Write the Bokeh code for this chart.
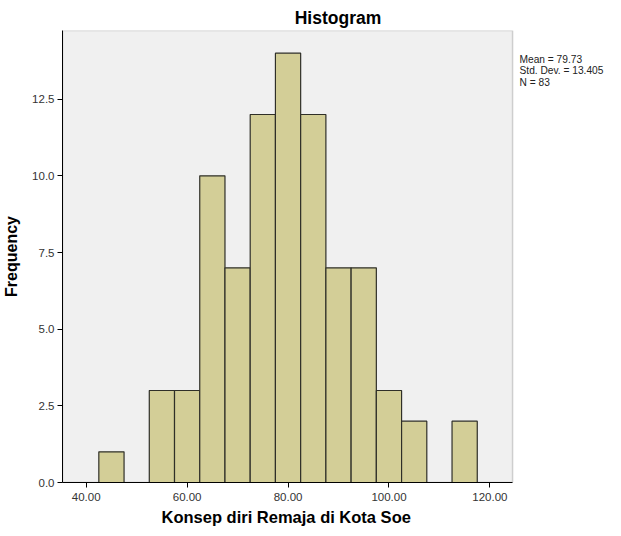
from bokeh.plotting import figure
from bokeh.models import (Range1d, FixedTicker, PrintfTickFormatter, ColumnDataSource,
                          Label, Title, BoxAnnotation)
from bokeh.embed import file_html
from bokeh.resources import INLINE

# ---- data ----
bin_width = 5.0
bin_left = [42.5, 47.5, 52.5, 57.5, 62.5, 67.5, 72.5, 77.5, 82.5, 87.5, 92.5, 97.5, 102.5, 107.5, 112.5]
counts = [1, 0, 3, 3, 10, 7, 12, 14, 12, 7, 7, 3, 2, 0, 2]
x_ticks = [40, 60, 80, 100, 120]
y_ticks = [0.0, 2.5, 5.0, 7.5, 10.0, 12.5]
stats_lines = ["Mean = 79.73", "Std. Dev. = 13.405", "N = 83"]
title_text = "Histogram"
x_label = "Konsep diri Remaja di Kota Soe"
y_label = "Frequency"

# plot-area limits (data units) and the extra room on the right for the statistics
area_x = (35.3, 124.5)
area_y = (0.0, 14.74)
canvas_x_max = 144.5

FONT = "Liberation Sans"

lefts = [l for l, c in zip(bin_left, counts) if c > 0]
rights = [l + bin_width for l, c in zip(bin_left, counts) if c > 0]
tops = [c for c in counts if c > 0]
src = ColumnDataSource(dict(left=lefts, right=rights, top=tops, bottom=[0] * len(tops)))

p = figure(width=613, height=528, output_backend="svg", toolbar_location=None,
           x_range=Range1d(area_x[0], canvas_x_max), y_range=Range1d(*area_y),
           min_border_left=62, min_border_right=0, min_border_top=30, min_border_bottom=44)

p.background_fill_color = "white"
p.border_fill_color = "white"
p.outline_line_color = None
p.xgrid.visible = False
p.ygrid.visible = False

# grey plot area with its frame
p.add_layout(BoxAnnotation(left=area_x[0], right=area_x[1], bottom=area_y[0], top=area_y[1],
                           fill_color="#f0f0f0", fill_alpha=1.0,
                           line_color="#707070", line_width=1.5, level="underlay"))

# title (centred over the whole chart incl. statistics, as in the reference)
p.title.text = title_text
p.title.text_font = FONT
p.title.text_font_size = "17.5px"
p.title.text_font_style = "bold"
p.title.text_color = "black"
p.title.align = "center"
p.title.standoff = 5

p.quad(left="left", right="right", top="top", bottom="bottom", source=src,
       fill_color="#d3ce97", line_color="#2f2f28", line_width=1.2)

for ax in (p.xaxis[0], p.yaxis[0]):
    ax.major_tick_out = 5
    ax.major_tick_in = 0
    ax.minor_tick_out = 0
    ax.minor_tick_in = 0
    ax.axis_line_color = "black"
    ax.major_tick_line_color = "black"
    ax.major_label_text_font = FONT
    ax.major_label_text_font_size = "11.5px"
    ax.major_label_text_color = "#333333"
    ax.major_label_standoff = 3

p.xaxis[0].ticker = FixedTicker(ticks=x_ticks)
p.xaxis[0].formatter = PrintfTickFormatter(format="%.2f")
p.xaxis[0].bounds = area_x
p.xaxis[0].major_label_standoff = 5

p.yaxis[0].ticker = FixedTicker(ticks=y_ticks)
p.yaxis[0].formatter = PrintfTickFormatter(format="%.1f")
p.yaxis[0].axis_label = y_label
p.yaxis[0].axis_label_text_font = FONT
p.yaxis[0].axis_label_text_font_style = "bold"
p.yaxis[0].axis_label_text_color = "black"
p.yaxis[0].axis_label_text_font_size = "16px"
p.yaxis[0].axis_label_standoff = 9

# x-axis title, centred under the plot area
p.add_layout(Title(text=x_label, align="left", offset=99, standoff=5,
                   text_font=FONT, text_font_size="16.5px", text_font_style="bold",
                   text_color="black"), "below")

# statistics block at the right of the plot area
for i, s in enumerate(stats_lines):
    p.add_layout(Label(x=457, y=423.5 - 11.5 * i, x_units="screen", y_units="screen", text=s,
                       text_font=FONT, text_font_size="10.2px",
                       text_align="left", text_baseline="middle", text_color="#222222"))

open("out.html", "w").write(file_html(p, INLINE))
